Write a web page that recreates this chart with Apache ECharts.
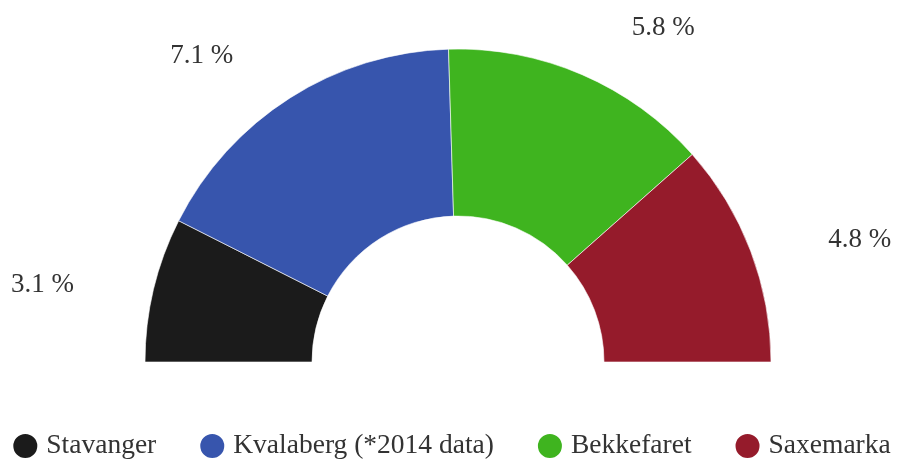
<!DOCTYPE html>
<html>
<head>
<meta charset="utf-8">
<script src="https://cdn.jsdelivr.net/npm/echarts@6/dist/echarts.min.js"></script>
<style>
    html, body { margin: 0; padding: 0; background: #fff; }
    #chart { width: 902px; height: 463px; }
</style>
</head>
<body>
<div id="chart"></div>
<script>
    // data
    const places = ['Stavanger', 'Kvalaberg (*2014 data)', 'Bekkefaret', 'Saxemarka'];
    const shares = [3.1, 7.1, 5.8, 4.8];
    const colors = ['#1b1b1b', '#3755ad', '#3fb41f', '#951b2b'];

    const font = '"Liberation Serif", "DejaVu Serif", serif';
    const myChart = echarts.init(document.getElementById('chart'), null, {renderer: 'canvas'});

    // mid angle of each slice (half donut, left to right), used to nudge side labels down a bit
    const total = shares.reduce((a, b) => a + b, 0);
    let acc = 0;
    const midAngles = shares.map(v => {
        const mid = Math.PI - (acc + v / 2) / total * Math.PI;
        acc += v;
        return mid;
    });

    const option = {
        color: colors,
        animation: false,
        textStyle: {fontFamily: font},
        legend: {
            data: places,
            left: 'center',
            top: 427,
            icon: 'circle',
            itemWidth: 26,
            itemHeight: 26,
            itemGap: 42,
            textStyle: {
                fontFamily: font,
                fontSize: 27.5,
                color: '#333',
                padding: [0, 0, 0, 3]
            }
        },
        series: [
            {
                type: 'pie',
                center: [458, 362],
                radius: [146, 313],
                startAngle: 180,
                endAngle: 360,
                clockwise: true,
                avoidLabelOverlap: false,
                itemStyle: {
                    borderColor: '#fff',
                    borderWidth: 0.6
                },
                label: {
                    show: true,
                    position: 'outside',
                    formatter: '{c} %',
                    fontFamily: font,
                    fontSize: 27,
                    color: '#333'
                },
                labelLine: {
                    show: false,
                    length: 52,
                    length2: 24
                },
                labelLayout: function (params) {
                    const c = Math.cos(midAngles[params.dataIndex]);
                    return {dy: 8 * c * c};
                },
                emphasis: {disabled: true},
                data: places.map((name, i) => ({name: name, value: shares[i]}))
            }
        ]
    };
    myChart.setOption(option);
</script>
</body>
</html>
